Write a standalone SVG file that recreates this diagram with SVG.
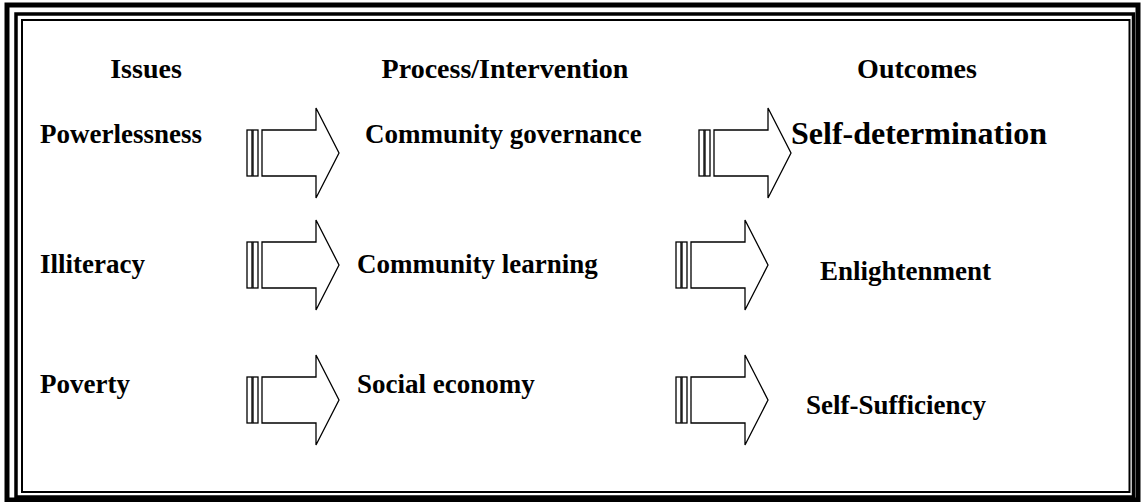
<svg xmlns="http://www.w3.org/2000/svg" xmlns:xlink="http://www.w3.org/1999/xlink" width="1141" height="502" viewBox="0 0 1141 502">
<style>
.t{font-family:"Liberation Serif","Times New Roman",serif;font-weight:bold;font-size:27px;fill:#000}
.h{font-size:28px;text-anchor:middle}
.fr{fill:none;stroke:#000}
.ar{fill:#fff;stroke:#000;stroke-width:1.3}
</style>
<defs>
<g id="blockArrow">
<rect class="ar" x="0" y="-23" width="5" height="46"/>
<rect class="ar" x="6" y="-23" width="5" height="46"/>
<path class="ar" d="M15,-23 H69 V-45 L92,0 L69,45 V23 H15 Z"/>
</g>
</defs>
<rect width="1141" height="502" fill="#fff"/>
<g id="frame">
<rect class="fr" x="7" y="5" width="1131" height="495" stroke-width="5"/>
<rect class="fr" x="16" y="14" width="1117.5" height="483" stroke-width="3.5"/>
<rect class="fr" x="22" y="20" width="1107.5" height="472" stroke-width="2"/>
</g>
<g id="headers">
<text class="t h" x="146" y="78">Issues</text>
<text class="t h" x="505" y="78">Process/Intervention</text>
<text class="t h" x="917" y="78">Outcomes</text>
</g>
<g id="node-powerlessness"><text class="t" x="40" y="143">Powerlessness</text></g>
<g id="node-community-governance"><text class="t" x="365" y="143">Community governance</text></g>
<g id="node-self-determination"><text class="t" x="791" y="144" style="font-size:32px">Self-determination</text></g>
<g id="node-illiteracy"><text class="t" x="40" y="273">Illiteracy</text></g>
<g id="node-community-learning"><text class="t" x="357" y="273">Community learning</text></g>
<g id="node-enlightenment"><text class="t" x="820" y="280">Enlightenment</text></g>
<g id="node-poverty"><text class="t" x="40" y="393">Poverty</text></g>
<g id="node-social-economy"><text class="t" x="357" y="393">Social economy</text></g>
<g id="node-self-sufficiency"><text class="t" x="806" y="414">Self-Sufficiency</text></g>
<g id="connectors">
<use href="#blockArrow" transform="translate(247,153)"/>
<use href="#blockArrow" transform="translate(699,153)"/>
<use href="#blockArrow" transform="translate(247,265)"/>
<use href="#blockArrow" transform="translate(676,265)"/>
<use href="#blockArrow" transform="translate(247,400)"/>
<use href="#blockArrow" transform="translate(676,400)"/>
</g>
</svg>
